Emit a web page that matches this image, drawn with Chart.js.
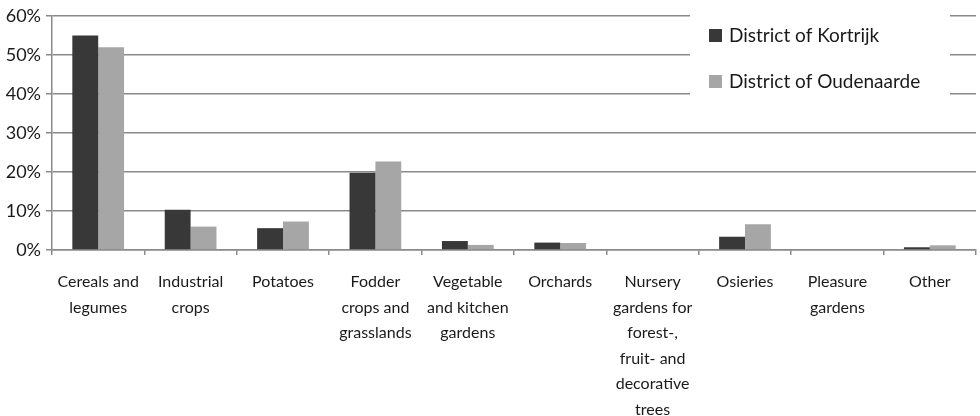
<!DOCTYPE html>
<html>
<head>
<meta charset="utf-8">
<script src="https://cdn.jsdelivr.net/npm/chart.js@4.4.1/dist/chart.umd.min.js"></script>
<style>
  html, body { margin: 0; padding: 0; background: #fff; }
  #wrap { width: 980px; height: 416px; position: relative; }
</style>
</head>
<body>
<div id="wrap"><canvas id="landUse"></canvas></div>
<script>
// ===== Data =====
const categories = [
  ['Cereals and', 'legumes'],
  ['Industrial', 'crops'],
  ['Potatoes'],
  ['Fodder', 'crops and', 'grasslands'],
  ['Vegetable', 'and kitchen', 'gardens'],
  ['Orchards'],
  ['Nursery', 'gardens for', 'forest-,', 'fruit- and', 'decorative', 'trees'],
  ['Osieries'],
  ['Pleasure', 'gardens'],
  ['Other']
];
const kortrijk   = [55.0, 10.3, 5.6, 19.8, 2.3, 1.9, 0, 3.4, 0, 0.7];
const oudenaarde = [52.0, 6.0, 7.3, 22.7, 1.3, 1.8, 0, 6.6, 0, 1.2];
const seriesNames = ['District of Kortrijk', 'District of Oudenaarde'];
const seriesColors = ['#383838', '#a6a6a6'];
const yTicks = [0, 10, 20, 30, 40, 50, 60];

const FONT = 'Lato, "Open Sans", sans-serif';
const GRID = '#8a8a8a';

// ===== Legend drawn inside the plot, on a white panel =====
const boxedLegend = {
  id: 'boxedLegend',
  afterDatasetsDraw(chart) {
    const ctx = chart.ctx;
    ctx.save();
    ctx.fillStyle = '#fff';
    ctx.fillRect(690, 8, 260, 104);
    ctx.font = '19px ' + FONT;
    ctx.textBaseline = 'middle';
    chart.data.datasets.forEach((ds, i) => {
      const y = 36 + i * 46;
      ctx.fillStyle = ds.backgroundColor;
      ctx.fillRect(709, y - 7, 13, 13);
      ctx.fillStyle = '#1a1a1a';
      ctx.fillText(ds.label, 729, y);
    });
    ctx.restore();
  }
};

new Chart(document.getElementById('landUse'), {
  type: 'bar',
  data: {
    labels: categories,
    datasets: [
      { label: seriesNames[0], data: kortrijk, backgroundColor: seriesColors[0] },
      { label: seriesNames[1], data: oudenaarde, backgroundColor: seriesColors[1] }
    ]
  },
  options: {
    responsive: true,
    maintainAspectRatio: false,
    animation: false,
    layout: { padding: { top: 16, right: 4, left: 0, bottom: 0 } },
    datasets: { bar: { barPercentage: 1, categoryPercentage: 0.56 } },
    plugins: {
      legend: { display: false },
      tooltip: { enabled: false }
    },
    scales: {
      x: {
        grid: {
          offset: true,
          drawOnChartArea: false,
          color: GRID,
          lineWidth: 1.5,
          tickLength: 5
        },
        border: { color: GRID, width: 1.5 },
        ticks: {
          color: '#1a1a1a',
          font: { family: FONT, size: 16, lineHeight: 1.6 },
          maxRotation: 0,
          autoSkip: false,
          padding: 14
        },
        afterFit(scale) { scale.height = 166; }
      },
      y: {
        min: 0,
        max: 60,
        afterBuildTicks(scale) { scale.ticks = yTicks.map(v => ({ value: v })); },
        grid: { color: GRID, lineWidth: 1.5, tickLength: 6 },
        border: { color: GRID, width: 1.5 },
        ticks: {
          color: '#1a1a1a',
          font: { family: FONT, size: 18 },
          padding: 5,
          callback: v => v + '%'
        },
        afterFit(scale) { scale.width = 52; }
      }
    }
  },
  plugins: [boxedLegend]
});
</script>
</body>
</html>
